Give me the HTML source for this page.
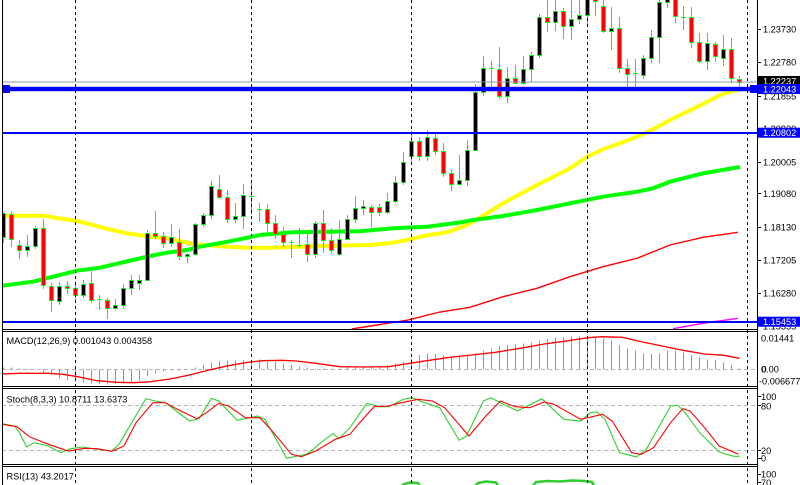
<!DOCTYPE html>
<html>
<head>
<meta charset="utf-8">
<style>
html,body{margin:0;padding:0;background:#fff;}
body{width:800px;height:485px;overflow:hidden;}
svg{display:block;}
text{font-family:"Liberation Sans",sans-serif;font-size:9.2px;fill:#000;}
.w{fill:#fff;}
</style>
</head>
<body>
<svg width="800" height="485" viewBox="0 0 800 485" xmlns="http://www.w3.org/2000/svg">
<defs>
<clipPath id="cm"><rect x="2" y="0" width="755" height="329"/></clipPath>
<clipPath id="cmacd"><rect x="2" y="332" width="755" height="54"/></clipPath>
<clipPath id="cst"><rect x="2" y="389" width="755" height="75"/></clipPath>
<clipPath id="crsi"><rect x="2" y="467" width="755" height="18"/></clipPath>
</defs>
<rect x="0" y="0" width="800" height="485" fill="#fff"/>

<!-- MAIN PANEL -->
<g clip-path="url(#cm)">
<!-- moving averages -->
<polyline fill="none" stroke="#ffff00" stroke-width="4" points="0,215.7 43,215.7 60,218.5 77,221 93,225 110,229.5 127,233.3 150,236.7 167,238.3 193,244 227,246.7 250,247.7 270,247.7 327,245.7 370,245 393,242.7 410,239.3 427,235.3 447,232.3 467,225 490,211.5 503,203.3 537,185 570,168.3 587,156.7 603,149.3 620,143.3 637,136.7 653,129.3 670,120 687,111.7 703,104 720,95 740,89"/>
<polyline fill="none" stroke="#00ff00" stroke-width="4" points="0,286 33,281.7 77,270.7 100,267.7 133,260 150,256 167,252.7 187,250 200,246.7 233,240.7 260,235 293,232.3 327,231.7 360,231.3 393,228.3 427,226.7 460,222.5 470,220.5 503,216 537,210 570,203.3 603,196.7 637,191.7 653,188.3 670,181.7 703,173.3 740,167"/>
<polyline fill="none" stroke="#ff0000" stroke-width="1.4" points="351.7,329 380,324.5 406.7,320.3 440,312 470,307.3 503,296.7 537,288.3 570,276.7 603,266.7 637,258.3 670,245 703,237.3 738,232.3"/>
<polyline fill="none" stroke="#ff00ff" stroke-width="1.4" points="673,328.7 703,323.3 738,318.3"/>

<!-- wicks -->
<path fill="none" stroke="#00ff00" stroke-width="1" shape-rendering="crispEdges" d="M3.5 212V243M11.5 212V247M19.5 240V259M27.5 235V257M35.5 226V249M43.5 219V289M51.5 283V312M59.5 282V305M67.5 281V294M75.5 283V301M83.5 280V298M91.5 270V303M99.5 295V310M107.5 298V319M115.5 299V310M123.5 284V308M131.5 275V295M139.5 275V290M147.5 230V281M155.5 211V239M163.5 232V248M171.5 224V247M179.5 229V260M187.5 253V263M195.5 223V255M203.5 213V227M211.5 181V219M219.5 175V198M227.5 190V223M235.5 203V223M243.5 184V229M251.5 183V215M259.5 203V222M267.5 204V233M275.5 215V239M283.5 227V247M291.5 240V258M299.5 228V247M307.5 234V262M315.5 221V258M323.5 210V253M331.5 228V253M339.5 220V256M347.5 215V240M355.5 196V223M363.5 200V215M371.5 205V227M379.5 204V216M387.5 193V214M395.5 176V203M403.5 152V185M411.5 131V163M419.5 137V161M427.5 130V161M435.5 132V155M443.5 143V177M451.5 170V191M459.5 155V185M467.5 140V186M475.5 84V151M483.5 56V96M491.5 61V92M499.5 47V99M507.5 67V103M515.5 65V84M523.5 56V85M531.5 52V82M539.5 14V58M547.5 0V32M555.5 0V31M563.5 8V39M571.5 0V40M579.5 0V24M587.5 0V24M595.5 0V16M603.5 0V33M611.5 7V50M619.5 17V73M627.5 59V87M635.5 59V88M643.5 55V79M651.5 30V63M659.5 0V63M667.5 0V8M675.5 0V23M683.5 6V30M691.5 7V48M699.5 33V63M707.5 33V70M715.5 42V62M723.5 35V66M731.5 38V83M739.5 76V92"/>
<!-- doji -->
<path fill="none" stroke="#00ff00" stroke-width="1" shape-rendering="crispEdges" d="M97 299.5h5M249 196.5h5M257 209.5h5M289 242.5h5M297 245.5h5M489 68.5h5M633 73.5h5M681 17.5h5"/>
<!-- bodies -->
<g stroke="#00ff00" stroke-width="1" shape-rendering="crispEdges">
<g fill="#000">
<rect x="1.5" y="213.5" width="4" height="24"/>
<rect x="25.5" y="246.5" width="4" height="4"/>
<rect x="33.5" y="228.5" width="4" height="18"/>
<rect x="57.5" y="286.5" width="4" height="15"/>
<rect x="81.5" y="284.5" width="4" height="11"/>
<rect x="113.5" y="305.5" width="4" height="3"/>
<rect x="121.5" y="288.5" width="4" height="17"/>
<rect x="129.5" y="280.5" width="4" height="8"/>
<rect x="137.5" y="280.5" width="4" height="3"/>
<rect x="145.5" y="233.5" width="4" height="47"/>
<rect x="169.5" y="237.5" width="4" height="6"/>
<rect x="185.5" y="254.5" width="4" height="2"/>
<rect x="193.5" y="224.5" width="4" height="30"/>
<rect x="201.5" y="215.5" width="4" height="9"/>
<rect x="209.5" y="186.5" width="4" height="29"/>
<rect x="233.5" y="216.5" width="4" height="3"/>
<rect x="241.5" y="195.5" width="4" height="21"/>
<rect x="313.5" y="223.5" width="4" height="31"/>
<rect x="337.5" y="239.5" width="4" height="15"/>
<rect x="345.5" y="219.5" width="4" height="20"/>
<rect x="353.5" y="208.5" width="4" height="11"/>
<rect x="361.5" y="206.5" width="4" height="2"/>
<rect x="385.5" y="201.5" width="4" height="11"/>
<rect x="393.5" y="182.5" width="4" height="19"/>
<rect x="401.5" y="162.5" width="4" height="20"/>
<rect x="409.5" y="141.5" width="4" height="15"/>
<rect x="425.5" y="137.5" width="4" height="19"/>
<rect x="457.5" y="180.5" width="4" height="4"/>
<rect x="465.5" y="150.5" width="4" height="30"/>
<rect x="473.5" y="92.5" width="4" height="58"/>
<rect x="481.5" y="68.5" width="4" height="24"/>
<rect x="505.5" y="78.5" width="4" height="18"/>
<rect x="521.5" y="69.5" width="4" height="14"/>
<rect x="529.5" y="55.5" width="4" height="14"/>
<rect x="537.5" y="17.5" width="4" height="38"/>
<rect x="553.5" y="11.5" width="4" height="11"/>
<rect x="569.5" y="19.5" width="4" height="7"/>
<rect x="577.5" y="15.5" width="4" height="4"/>
<rect x="585.5" y="-2.5" width="4" height="18"/>
<rect x="609.5" y="28.5" width="4" height="3"/>
<rect x="641.5" y="58.5" width="4" height="17"/>
<rect x="649.5" y="37.5" width="4" height="21"/>
<rect x="657.5" y="2.5" width="4" height="35"/>
<rect x="665.5" y="-2.5" width="4" height="5"/>
<rect x="705.5" y="43.5" width="4" height="18"/>
<rect x="721.5" y="49.5" width="4" height="9"/>
</g>
<g fill="#ff0000">
<rect x="9.5" y="214.5" width="4" height="25"/>
<rect x="17.5" y="245.5" width="4" height="5"/>
<rect x="41.5" y="228.5" width="4" height="57"/>
<rect x="49.5" y="286.5" width="4" height="14"/>
<rect x="65.5" y="286.5" width="4" height="2"/>
<rect x="73.5" y="288.5" width="4" height="7"/>
<rect x="89.5" y="283.5" width="4" height="17"/>
<rect x="105.5" y="300.5" width="4" height="8"/>
<rect x="153.5" y="233.5" width="4" height="3"/>
<rect x="161.5" y="236.5" width="4" height="7"/>
<rect x="177.5" y="242.5" width="4" height="14"/>
<rect x="217.5" y="189.5" width="4" height="8"/>
<rect x="225.5" y="197.5" width="4" height="22"/>
<rect x="265.5" y="209.5" width="4" height="14"/>
<rect x="273.5" y="223.5" width="4" height="11"/>
<rect x="281.5" y="234.5" width="4" height="8"/>
<rect x="305.5" y="244.5" width="4" height="10"/>
<rect x="321.5" y="223.5" width="4" height="17"/>
<rect x="329.5" y="240.5" width="4" height="10"/>
<rect x="369.5" y="207.5" width="4" height="5"/>
<rect x="377.5" y="207.5" width="4" height="5"/>
<rect x="417.5" y="141.5" width="4" height="15"/>
<rect x="433.5" y="138.5" width="4" height="13"/>
<rect x="441.5" y="151.5" width="4" height="22"/>
<rect x="449.5" y="173.5" width="4" height="11"/>
<rect x="497.5" y="69.5" width="4" height="27"/>
<rect x="513.5" y="78.5" width="4" height="5"/>
<rect x="545.5" y="17.5" width="4" height="5"/>
<rect x="561.5" y="11.5" width="4" height="15"/>
<rect x="593.5" y="-2.5" width="4" height="4"/>
<rect x="601.5" y="6.5" width="4" height="25"/>
<rect x="617.5" y="28.5" width="4" height="40"/>
<rect x="625.5" y="68.5" width="4" height="6"/>
<rect x="673.5" y="-2.5" width="4" height="19"/>
<rect x="689.5" y="17.5" width="4" height="25"/>
<rect x="697.5" y="42.5" width="4" height="19"/>
<rect x="713.5" y="44.5" width="4" height="12"/>
<rect x="729.5" y="49.5" width="4" height="29"/>
<rect x="737.5" y="79.5" width="4" height="3"/>
</g>
</g>

<!-- horizontal lines -->
<rect x="2" y="81.5" width="755" height="1" fill="#8c98a4"/>
<rect x="2" y="86.8" width="755" height="4.4" fill="#0000ff"/>
<rect x="2" y="85" width="8" height="8" fill="#0000ff"/>
<rect x="750" y="85" width="7" height="8" fill="#0000ff"/>
<rect x="2" y="132" width="755" height="2" fill="#0000ff"/>
<rect x="2" y="321" width="755" height="2" fill="#0000ff"/>
</g>

<!-- MACD PANEL -->
<g clip-path="url(#cmacd)">
<line x1="2" y1="369.5" x2="757" y2="369.5" stroke="#b4b4b4" stroke-width="1" stroke-dasharray="4,3"/>
<path fill="none" stroke="#3cd23c" stroke-width="1" shape-rendering="crispEdges" d="M3.5 369.5V367.7M11.5 369.5V367.7M19.5 369.5V368.3M27.5 369.5V369M35.5 369.5V370.5M43.5 369.5V372.7M51.5 369.5V375M59.5 369.5V378.3M67.5 369.5V380M75.5 369.5V381.7M83.5 369.5V382.7M91.5 369.5V383.3M99.5 369.5V384M107.5 369.5V384.3M115.5 369.5V384M123.5 369.5V383.3M131.5 369.5V382.7M139.5 369.5V380.7M147.5 369.5V376.7M155.5 369.5V373.3M163.5 369.5V371.7M171.5 369.5V370.7M179.5 369.5V370.5M195.5 369.5V367.3M203.5 369.5V365M211.5 369.5V362.3M219.5 369.5V361M227.5 369.5V360.7M235.5 369.5V360.7M243.5 369.5V360M251.5 369.5V360.7M259.5 369.5V359.3M267.5 369.5V360.7M275.5 369.5V361.7M283.5 369.5V363.3M291.5 369.5V365M299.5 369.5V366.7M307.5 369.5V367.7M315.5 369.5V368.3M323.5 369.5V368.3M331.5 369.5V368.7M339.5 369.5V368.3M347.5 369.5V367.7M355.5 369.5V367.3M363.5 369.5V366.7M371.5 369.5V366M379.5 369.5V366M387.5 369.5V365M395.5 369.5V363.3M403.5 369.5V361.7M411.5 369.5V358.3M419.5 369.5V355M427.5 369.5V353.3M435.5 369.5V354M443.5 369.5V355M451.5 369.5V356.7M459.5 369.5V356.7M467.5 369.5V355M475.5 369.5V353.3M483.5 369.5V350.7M491.5 369.5V348.3M499.5 369.5V346M507.5 369.5V345M515.5 369.5V344M523.5 369.5V343.3M531.5 369.5V342.7M539.5 369.5V340.7M547.5 369.5V339M555.5 369.5V337.3M563.5 369.5V337.3M571.5 369.5V336.7M579.5 369.5V336.7M587.5 369.5V337.3M595.5 369.5V336.7M603.5 369.5V338.3M611.5 369.5V340.7M619.5 369.5V345M627.5 369.5V348.3M635.5 369.5V350.7M643.5 369.5V353.3M651.5 369.5V354M659.5 369.5V353.3M667.5 369.5V350.7M675.5 369.5V350.7M683.5 369.5V352.7M691.5 369.5V355M699.5 369.5V357.3M707.5 369.5V359.3M715.5 369.5V360M723.5 369.5V362.7M731.5 369.5V365M739.5 369.5V368.3"/>
<polyline fill="none" stroke="#ff0000" stroke-width="1.3" points="0,374 19.4,373.3 48.6,373.3 63,374.3 77.7,376.7 97,380.7 116.6,382.3 133.6,382.7 150.6,381.7 170,379 189.5,375 209,370 228.4,365.7 247.8,362.3 262.4,360.7 281.8,360.3 296.4,361 315.8,363.3 340,366.7 364.4,367 388.7,366.7 403.3,364.3 422.7,361.3 447,357.7 471.3,355 495.6,352.3 520,348.3 544.2,344 568.5,340.7 588,337.7 602.5,336.7 622,337.3 641.4,341.7 665.7,346.7 685,350.7 704.6,354 724,355.3 739.5,358.3"/>
</g>

<!-- STOCH PANEL -->
<g clip-path="url(#cst)">
<line x1="2" y1="405.5" x2="757" y2="405.5" stroke="#b4b4b4" stroke-width="1" stroke-dasharray="4,3"/>
<line x1="2" y1="450.5" x2="757" y2="450.5" stroke="#b4b4b4" stroke-width="1" stroke-dasharray="4,3"/>
<polyline fill="none" stroke="#32cd32" stroke-width="1.1" points="2,423.7 14.6,426 19.4,432.7 26.7,447 34,442.7 48.6,446 60.7,452.7 70.5,448.7 82.6,447 97.2,449.3 111.8,451 119,444.3 145.8,398.7 155.5,401 165.2,402.7 189.5,421 199.2,418.7 211.4,398.3 218.7,401 237.1,420.3 250.2,417.7 257.5,416 264.8,419.3 286.7,458.3 306.1,454.3 311,451 320.7,442.7 332.8,433.7 339.2,438.7 349.9,427.7 366.9,403.3 379,406.7 388.7,406.7 403.3,399.3 412,397.7 422.7,402 439.7,407.7 459.2,440.3 466.5,436 483.5,401 490.8,397.7 500.5,402.7 517.5,411 541.8,398.7 563.7,419.3 580.7,421 590.4,412.7 596.7,412 605,419.3 619.5,452.7 636.5,457 646.3,449.3 670.6,406 677.8,405.3 685.1,412.7 699.7,432.7 719.1,452 733.7,456.3 739.5,456.3"/>
<polyline fill="none" stroke="#ff0000" stroke-width="1.1" points="2,424.3 17,426.7 29.2,436.7 48.6,444.3 68,451 85,448.3 97.2,448.7 111.8,451.3 123.9,446 136,422.7 153,402.7 165.2,402.7 177.4,409.3 196.8,418.7 206.5,412.7 218.7,403.3 228.4,406 245.4,417.7 260,417.7 272.1,431 291.5,454.3 301.3,456.7 315.8,451 335.3,439.3 349.9,434.3 359.6,422.7 374.1,406.7 388.7,406 398.4,403.3 417.9,399.3 432.5,401 444.6,407.7 468.9,436 485.9,416 500.5,401 515.1,406.7 529.6,407.7 544.2,402 553.9,404.3 580.7,419.3 602.5,414.3 612.2,421 631.7,452.7 641.4,454.3 653.5,447.7 670.6,422.7 682.7,408.7 690,411 704.6,427.7 719.1,446 738.6,454.3"/>
</g>

<!-- RSI PANEL -->
<g clip-path="url(#crsi)">
<polyline fill="none" stroke="#32cd32" stroke-width="2.6" points="395,492 404,484 410,482.5 418,483 424,492"/>
<polyline fill="none" stroke="#32cd32" stroke-width="2.6" points="470,492 478,483 486,481.5 496,482.5 502,492"/>
<polyline fill="none" stroke="#32cd32" stroke-width="2.6" points="528,492 536,482 548,481 560,481.5 572,480.5 585,481 592,482 598,492"/>
</g>

<!-- vertical dashed separators -->
<g stroke="#000" stroke-width="1" stroke-dasharray="3,3" shape-rendering="crispEdges">
<line x1="75.5" y1="0" x2="75.5" y2="485"/>
<line x1="251.5" y1="0" x2="251.5" y2="485"/>
<line x1="411.5" y1="0" x2="411.5" y2="485"/>
<line x1="587.5" y1="0" x2="587.5" y2="485"/>
<line x1="747.5" y1="0" x2="747.5" y2="485"/>
</g>

<!-- panel borders -->
<g stroke="#000" stroke-width="1" shape-rendering="crispEdges" fill="none">
<line x1="2.5" y1="0" x2="2.5" y2="485"/>
<line x1="757.5" y1="0" x2="757.5" y2="485"/>
<line x1="2" y1="329.5" x2="758" y2="329.5"/>
<line x1="2" y1="331.5" x2="758" y2="331.5"/>
<line x1="2" y1="386.5" x2="758" y2="386.5"/>
<line x1="2" y1="388.5" x2="758" y2="388.5"/>
<line x1="2" y1="464.5" x2="758" y2="464.5"/>
<line x1="2" y1="466.5" x2="758" y2="466.5"/>
</g>

<!-- axis ticks -->
<path stroke="#000" stroke-width="1" shape-rendering="crispEdges" d="M757 29.5h4M757 62.5h4M757 96.5h4M757 128.5h4M757 162.5h4M757 193.5h4M757 227.5h4M757 260.5h4M757 293.5h4M757 338.5h4M757 369.5h4M757 381.5h4M757 396.5h4M757 405.5h4M757 450.5h4M757 458.5h4M757 474.5h4M757 482.5h4"/>

<!-- main axis labels -->
<text x="763" y="32.6">1.23730</text>
<text x="763" y="65.3">1.22780</text>
<text x="763" y="99.3">1.21855</text>
<text x="763" y="131.8">1.20930</text>
<text x="763" y="165.3">1.20005</text>
<text x="763" y="197">1.19080</text>
<text x="763" y="230.6">1.18130</text>
<text x="763" y="263.3">1.17205</text>
<text x="763" y="296.6">1.16280</text>
<text x="763" y="329.3">1.15355</text>

<rect x="758" y="76" width="42" height="10" fill="#000"/>
<text class="w" x="763" y="84.3">1.22237</text>
<rect x="758" y="84" width="42" height="10" fill="#0000ff"/>
<text class="w" x="763" y="92.3">1.22043</text>
<rect x="758" y="127.7" width="42" height="10" fill="#0000ff"/>
<text class="w" x="763" y="136">1.20802</text>
<rect x="758" y="316.7" width="42" height="10" fill="#0000ff"/>
<text class="w" x="763" y="325">1.15453</text>

<!-- sub panel axis labels -->
<rect x="758" y="330" width="42" height="55" fill="#fff"/>
<text x="761" y="341.6">0.01441</text>
<text x="761" y="372.6">0.00</text>
<text x="761.5" y="372.6">0</text>
<text x="759" y="384.3">-0.006677</text>
<text x="761" y="400">100</text>
<text x="761" y="409.3">80</text>
<text x="761" y="454">20</text>
<text x="761" y="461.3">0</text>
<text x="761" y="477.6">100</text>
<text x="761" y="486">70</text>

<!-- panel titles -->
<text x="6.5" y="344">MACD(12,26,9) 0.001043 0.004358</text>
<text x="6.5" y="402.3">Stoch(8,3,3) 10.8711 13.6373</text>
<text x="6.5" y="479.3">RSI(13) 43.2017</text>
</svg>
</body>
</html>
